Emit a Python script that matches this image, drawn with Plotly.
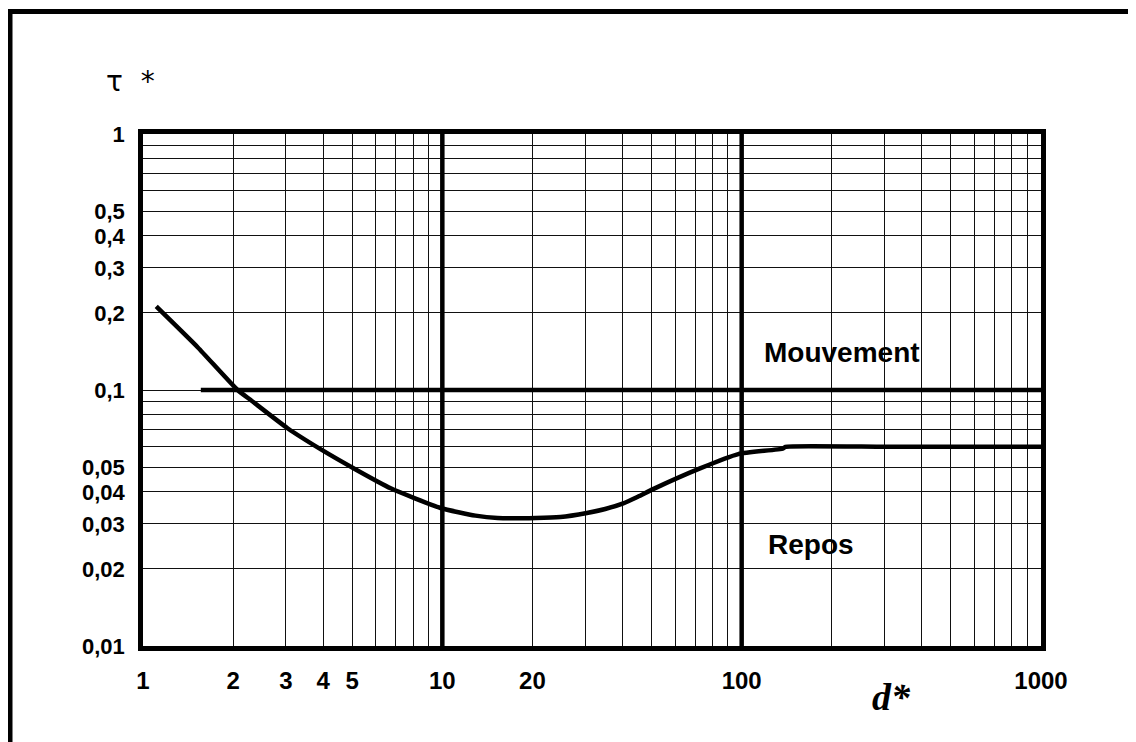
import plotly.graph_objects as go

# ---- data ----
d_star = [1.107, 1.525, 2.07, 2.30, 3.04, 3.93, 5.17, 6.72, 9.87, 12.9, 15.3, 20.5,
          24.8, 30.4, 35.0, 40.0, 45.0, 50.6, 72.6, 97.4, 137.6, 140, 300, 600, 1000]
tau_star = [0.212, 0.1466, 0.100, 0.091, 0.0709, 0.0586, 0.0487, 0.0413, 0.0346, 0.0323,
            0.0316, 0.0316, 0.0319, 0.0331, 0.0343, 0.0360, 0.0383, 0.0410, 0.0494, 0.0562,
            0.0591, 0.060, 0.060, 0.060, 0.060]

mouvement_x = [1.56, 1000]
mouvement_y = [0.1, 0.1]

x_major = [10, 100]
y_range = [0.01, 1]

x_grid = [m * 10 ** e for e in range(0, 3) for m in range(1, 10)] + [1000]
x_labels = {1: "1", 2: "2", 3: "3", 4: "4", 5: "5", 10: "10", 20: "20", 100: "100", 1000: "1000"}
y_grid = [round(m * 10 ** e, 4) for e in (-2, -1) for m in range(1, 10)] + [1]
y_labels = {0.01: "0,01", 0.02: "0,02", 0.03: "0,03", 0.04: "0,04", 0.05: "0,05",
            0.1: "0,1", 0.2: "0,2", 0.3: "0,3", 0.4: "0,4", 0.5: "0,5", 1: "1"}

# page offset (browser body margin) compensation
OFF = 8
SX, SY, W, H = 143, 134, 898, 512          # inner plot area in screen pixels
L, T = SX - OFF, SY - OFF

fig = go.Figure()

# thick vertical lines at 10 and 100
for xv in x_major:
    fig.add_trace(go.Scatter(x=[xv, xv], y=y_range, mode="lines",
                             line=dict(color="black", width=4.5),
                             hoverinfo="skip", showlegend=False))

# Mouvement threshold line
fig.add_trace(go.Scatter(x=mouvement_x, y=mouvement_y, mode="lines",
                         line=dict(color="black", width=4.5),
                         hoverinfo="skip", showlegend=False))

# Shields-type curve
fig.add_trace(go.Scatter(x=d_star, y=tau_star, mode="lines",
                         line=dict(color="black", width=4.5, shape="spline", smoothing=0.5),
                         showlegend=False))

tickfont = dict(family="Liberation Sans, Arial, sans-serif", size=22, color="black", weight="bold")

fig.update_xaxes(type="log", range=[0, 3],
                 tickvals=x_grid, ticktext=[x_labels.get(v, "") for v in x_grid],
                 showgrid=True, gridcolor="#111", gridwidth=1.3,
                 showline=True, linecolor="black", linewidth=4.5, mirror=True,
                 ticks="", ticklabelstandoff=9, zeroline=False,
                 tickfont=dict(tickfont, size=24))
fig.update_yaxes(type="log", range=[-2, 0],
                 tickvals=y_grid, ticktext=[y_labels.get(v, "") for v in y_grid],
                 showgrid=True, gridcolor="#111", gridwidth=1.3,
                 showline=True, linecolor="black", linewidth=4.5, mirror=True,
                 ticks="", ticklabelstandoff=9, zeroline=False,
                 tickfont=tickfont)


def px_x(p):
    return (p - SX) / W


def px_y(p):
    return (SY + H - p) / H


ann_font = dict(family="Liberation Sans, Arial, sans-serif", size=28, color="black", weight="bold")
fig.add_annotation(x=2.334, y=-0.854, xref="x", yref="y", text="Mouvement",
                   showarrow=False, font=ann_font, xanchor="center", yanchor="middle")
fig.add_annotation(x=2.231, y=-1.604, xref="x", yref="y", text="Repos",
                   showarrow=False, font=ann_font, xanchor="center", yanchor="middle")

# axis titles
fig.add_annotation(x=px_x(130), y=px_y(81), xref="paper", yref="paper",
                   text="\u03c4\u00a0\u00a0*", showarrow=False,
                   font=dict(family="DejaVu Sans, sans-serif", size=28, color="black"),
                   xanchor="center", yanchor="middle")
fig.add_annotation(x=px_x(891), y=px_y(697), xref="paper", yref="paper",
                   text="<b><i>d*</i></b>", showarrow=False,
                   font=dict(family="Liberation Serif, Times New Roman, serif", size=38, color="black"),
                   xanchor="center", yanchor="middle")

# outer frame (top and left edges)
fig.add_shape(type="line", xref="paper", yref="paper",
              x0=px_x(8), x1=px_x(1150), y0=px_y(11.5), y1=px_y(11.5),
              line=dict(color="black", width=5))
fig.add_shape(type="line", xref="paper", yref="paper",
              x0=px_x(10), x1=px_x(10), y0=px_y(9), y1=px_y(760),
              line=dict(color="black", width=5))

fig.update_layout(width=1136, height=742,
                  margin=dict(l=L, r=1136 - L - W, t=T, b=742 - T - H),
                  paper_bgcolor="white", plot_bgcolor="white",
                  showlegend=False)

fig.write_html("out.html")
